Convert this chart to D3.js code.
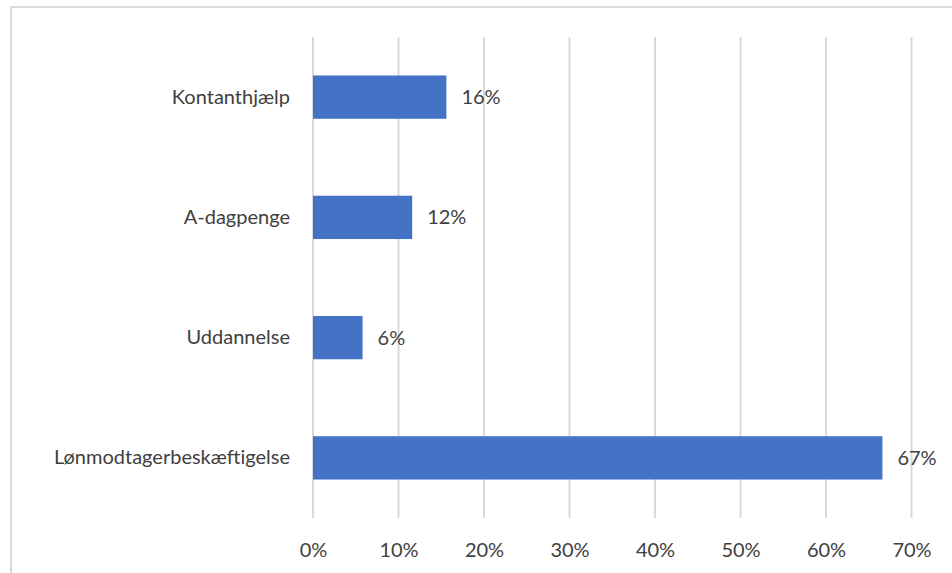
<!DOCTYPE html>
<html>
<head>
<meta charset="utf-8">
<script src="https://cdn.jsdelivr.net/npm/d3@7/dist/d3.min.js"></script>
<style>
  html, body { margin: 0; padding: 0; background: #fff; }
  svg { display: block; }
  text { font-family: Lato, "Open Sans", sans-serif; fill: #404040; }
</style>
</head>
<body>
<svg id="chart" width="952" height="573"></svg>
<script>
// Andel fordelt på ydelse / beskæftigelse
const categories = ["Kontanthjælp", "A-dagpenge", "Uddannelse", "Lønmodtagerbeskæftigelse"];
const values = [0.156, 0.116, 0.058, 0.666];
const tickValues = [0, 0.1, 0.2, 0.3, 0.4, 0.5, 0.6, 0.7];

const W = 952, H = 573;
const margin = { top: 37, right: 40, bottom: 55, left: 313 };
const fontSize = 20;

const svg = d3.select("#chart");

// Chart frame (extends past the right and bottom edges)
svg.append("rect")
  .attr("x", 11).attr("y", 7)
  .attr("width", W + 20).attr("height", H + 20)
  .attr("fill", "#fff")
  .attr("stroke", "#d9d9d9")
  .attr("stroke-width", 2);

const x = d3.scaleLinear()
  .domain([0, 0.7])
  .range([margin.left, 911.5]);

const y = d3.scaleBand()
  .domain(categories)
  .range([margin.top, 518])
  .paddingInner(0.64)
  .paddingOuter(0.32);

// Vertical gridlines
svg.append("g")
  .selectAll("line")
  .data(tickValues)
  .join("line")
  .attr("x1", d => x(d)).attr("x2", d => x(d))
  .attr("y1", margin.top).attr("y2", 518)
  .attr("stroke", "#d9d9d9")
  .attr("stroke-width", 2);

// X axis labels
const xAxis = d3.axisBottom(x)
  .tickValues(tickValues)
  .tickFormat(d3.format(".0%"))
  .tickSize(0)
  .tickPadding(0);

const gx = svg.append("g")
  .attr("transform", "translate(0,544)")
  .call(xAxis);
gx.select(".domain").remove();
gx.selectAll("text")
  .attr("font-size", fontSize)
  .attr("font-family", null)
  .attr("dy", "0.32em")
  .attr("y", 7);

// Y axis category labels
const yAxis = d3.axisLeft(y).tickSize(0).tickPadding(23);
const gy = svg.append("g")
  .attr("transform", `translate(${margin.left},0)`)
  .call(yAxis);
gy.select(".domain").remove();
gy.selectAll("text")
  .attr("font-size", fontSize)
  .attr("font-family", null);

// Bars
svg.append("g")
  .selectAll("rect")
  .data(categories)
  .join("rect")
  .attr("x", x(0))
  .attr("y", d => y(d))
  .attr("width", (d, i) => x(values[i]) - x(0))
  .attr("height", y.bandwidth())
  .attr("fill", "#4472c4");

// Value labels
svg.append("g")
  .selectAll("text")
  .data(categories)
  .join("text")
  .attr("x", (d, i) => x(values[i]) + 15)
  .attr("y", d => y(d) + y.bandwidth() / 2)
  .attr("dy", "0.35em")
  .attr("font-size", fontSize)
  .text((d, i) => d3.format(".0%")(values[i]));
</script>
</body>
</html>
